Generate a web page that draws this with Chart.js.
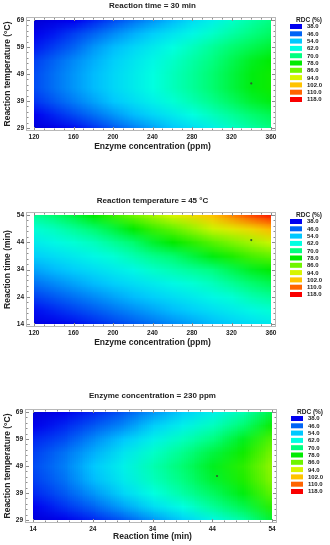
<!DOCTYPE html>
<html>
<head>
<meta charset="utf-8">
<script src="https://cdn.jsdelivr.net/npm/chart.js@4.4.1/dist/chart.umd.min.js"></script>
<style>
  body { margin: 0; background: #fff; }
  #wrap { position: relative; width: 330px; height: 545px; }
  canvas { position: absolute; left: 0; }
</style>
</head>
<body>
<div id="wrap">
  <canvas id="c1" width="330" height="160" style="top:0px"></canvas>
  <canvas id="c2" width="330" height="170" style="top:180px"></canvas>
  <canvas id="c3" width="330" height="175" style="top:370px"></canvas>
</div>
<script>
const enzymeGrid = [120, 140, 160, 180, 200, 220, 240, 260, 280, 300, 320, 340, 360];
const tempGrid = [29, 34, 39, 44, 49, 54, 59, 64, 69];
const timeGrid = [14, 19, 24, 29, 34, 39, 44, 49, 54];

// Reaction time = 30 min : rows = tempGrid, cols = enzymeGrid
const rdcTime30 = [
  [33, 36, 39, 42, 45, 48, 51, 54, 57, 60, 64, 67, 70],
  [38, 41, 44, 47, 50, 53, 56, 59, 62, 65, 68, 71, 73],
  [42, 45, 48, 51, 54, 57, 60, 63, 66, 69, 72, 75, 77],
  [44, 47, 50, 53, 56, 59, 62, 65, 68, 71, 74, 77, 79],
  [44, 47, 50, 53, 56, 59, 62, 65, 68, 71, 74, 77, 79],
  [43, 46, 49, 52, 55, 58, 61, 64, 67, 70, 73, 76, 78],
  [40, 43, 46, 50, 53, 56, 59, 62, 65, 68, 71, 73, 75],
  [37, 40, 43, 46, 49, 52, 55, 58, 61, 64, 67, 70, 72],
  [32, 35, 38, 41, 44, 47, 50, 53, 57, 60, 64, 67, 70]
];

// Reaction temperature = 45 °C : rows = timeGrid, cols = enzymeGrid
const rdcTemp45 = [
  [35, 37, 39, 41, 43, 45, 47, 49, 51, 53, 55, 57, 59],
  [39, 41, 43, 45, 47, 49, 51, 53, 55, 57, 59, 61, 63],
  [43, 45, 47, 49, 51, 53, 55, 57, 59, 61, 63, 66, 68],
  [47, 49, 51, 53, 55, 57, 59, 61, 63, 65, 68, 71, 73],
  [51, 53, 55, 57, 59, 61, 64, 66, 68, 70, 73, 76, 78],
  [55, 57, 59, 61, 63, 66, 69, 71, 74, 77, 80, 83, 85],
  [59, 61, 63, 65, 68, 71, 75, 78, 81, 84, 87, 90, 93],
  [63, 65, 68, 71, 74, 78, 82, 85, 89, 93, 96, 99, 103],
  [68, 71, 74, 78, 82, 86, 90, 94, 98, 102, 107, 112, 116]
];

// Enzyme concentration = 230 ppm : rows = tempGrid, cols = timeGrid
const rdcEnzyme230 = [
  [33, 37, 41, 45, 50, 55, 61, 67, 75],
  [38, 42, 46, 51, 57, 62, 68, 73, 81],
  [41, 45, 50, 56, 62, 67, 72, 77, 85],
  [43, 47, 53, 59, 65, 70, 75, 80, 88],
  [44, 48, 54, 60, 66, 71, 76, 81, 89],
  [43, 47, 52, 58, 64, 69, 74, 79, 87],
  [41, 44, 49, 54, 60, 65, 70, 76, 84],
  [37, 41, 45, 49, 55, 60, 65, 71, 79],
  [33, 37, 41, 45, 50, 55, 60, 66, 74]
];

// optimum marker in each panel
const optimumPoints = [{ x: 340, y: 45.5 }, { x: 340, y: 44.8 }, { x: 44.8, y: 45.3 }];

const legendLevels = [38, 46, 54, 62, 70, 78, 86, 94, 102, 110, 118];
const legendColors = [
  [0, 0, 240], [0, 100, 245], [0, 200, 255], [0, 255, 225], [0, 255, 128], [0, 235, 0],
  [110, 245, 0], [215, 245, 0], [255, 195, 0], [255, 100, 0], [250, 0, 0]
];

const FONT = '"Liberation Sans", Arial, sans-serif';

function colorFor(v) {
  if (v <= legendLevels[0]) {
    const k = Math.max(0, Math.min(1, (legendLevels[0] - v) / 8));
    return [0, 0, Math.round(240 - 35 * k)];
  }
  for (let i = 1; i < legendLevels.length; i++) {
    if (v <= legendLevels[i]) {
      const t = (v - legendLevels[i - 1]) / (legendLevels[i] - legendLevels[i - 1]);
      const a = legendColors[i - 1], b = legendColors[i];
      return a.map((c, j) => Math.round(c + (b[j] - c) * t));
    }
  }
  return legendColors[legendColors.length - 1];
}

// surface: one image pixel per read value, placed with the chart scales
const surfacePlugin = {
  id: 'surface',
  beforeDatasetsDraw(chart, args, o) {
    const { ctx, chartArea: a, scales: { x, y } } = chart;
    const nx = o.xs.length, ny = o.ys.length;
    const off = document.createElement('canvas');
    off.width = nx; off.height = ny;
    const octx = off.getContext('2d');
    const img = octx.createImageData(nx, ny);
    for (let j = 0; j < ny; j++) {
      for (let i = 0; i < nx; i++) {
        const c = colorFor(o.z[j][i]);
        const p = ((ny - 1 - j) * nx + i) * 4;
        img.data[p] = c[0]; img.data[p + 1] = c[1]; img.data[p + 2] = c[2]; img.data[p + 3] = 255;
      }
    }
    octx.putImageData(img, 0, 0);
    const hx = (o.xs[1] - o.xs[0]) / 2, hy = (o.ys[1] - o.ys[0]) / 2;
    const left = x.getPixelForValue(o.xs[0] - hx);
    const right = x.getPixelForValue(o.xs[nx - 1] + hx);
    const top = y.getPixelForValue(o.ys[ny - 1] + hy);
    const bottom = y.getPixelForValue(o.ys[0] - hy);
    ctx.save();
    ctx.beginPath();
    ctx.rect(a.left, a.top, a.right - a.left, a.bottom - a.top);
    ctx.clip();
    ctx.imageSmoothingEnabled = true;
    ctx.drawImage(off, left, top, right - left, bottom - top);
    ctx.restore();
  }
};

// grey frame with inner tick marks + legend of levels
const framePlugin = {
  id: 'frame',
  afterDraw(chart, args, o) {
    const { ctx, chartArea: a, scales: { x, y } } = chart;
    const L = a.left - 8, R = a.right + 5, T = a.top - 3, B = a.bottom + 3;
    ctx.save();
    ctx.strokeStyle = '#b8b8b8';
    ctx.lineWidth = 1;
    ctx.strokeRect(L + 0.5, T + 0.5, R - L - 1, B - T - 1);

    ctx.strokeStyle = '#8c8c8c';
    ctx.beginPath();
    for (let v = x.min; v <= x.max + 1e-6; v += o.xMinor) {
      const px = Math.round(x.getPixelForValue(v)) + 0.5;
      const major = Math.abs(((v - x.min) / o.xMajor) - Math.round((v - x.min) / o.xMajor)) < 1e-6;
      const len = major ? 3 : 1.5;
      ctx.moveTo(px, T + 1); ctx.lineTo(px, T + 1 + len);
      ctx.moveTo(px, B - 1); ctx.lineTo(px, B - 1 - len);
    }
    for (let v = y.min; v <= y.max + 1e-6; v += o.yMinor) {
      const py = Math.round(y.getPixelForValue(v)) + 0.5;
      const major = Math.abs(((v - y.min) / o.yMajor) - Math.round((v - y.min) / o.yMajor)) < 1e-6;
      const len = major ? 3 : 1.5;
      ctx.moveTo(L + 1, py); ctx.lineTo(L + 1 + len, py);
      ctx.moveTo(R - 1, py); ctx.lineTo(R - 1 - len, py);
    }
    ctx.stroke();

    // legend
    ctx.fillStyle = '#222';
    ctx.font = 'bold 6.5px ' + FONT;
    ctx.textBaseline = 'middle';
    ctx.textAlign = 'center';
    ctx.fillText('RDC (%)', a.right + 38, a.top + 0.5);
    ctx.textAlign = 'left';
    ctx.font = 'bold 6px ' + FONT;
    legendLevels.forEach((lv, i) => {
      const cy = a.top + 6.5 + i * 7.3;
      const c = legendColors[i];
      ctx.fillStyle = `rgb(${c[0]},${c[1]},${c[2]})`;
      ctx.fillRect(a.right + 19, cy - 2.5, 12, 5);
      ctx.fillStyle = '#222';
      ctx.fillText(lv.toFixed(1), a.right + 36, cy + 0.3);
    });
    ctx.restore();
  }
};

function makePanel(id, cfg) {
  return new Chart(document.getElementById(id), {
    type: 'scatter',
    data: {
      datasets: [{
        data: [cfg.point],
        pointRadius: 1.1,
        pointBackgroundColor: '#2f5f2f',
        pointBorderWidth: 0
      }]
    },
    options: {
      responsive: false,
      animation: false,
      events: [],
      layout: { padding: { left: 0, top: 0, right: 330 - cfg.right, bottom: 0 } },
      plugins: {
        legend: { display: false },
        tooltip: { enabled: false },
        title: {
          display: true,
          text: cfg.title,
          fullSize: false,
          color: '#222',
          font: { family: FONT, size: 8, weight: 'bold' },
          padding: { top: cfg.titleY - 4.8, bottom: cfg.top - cfg.titleY - 4.8 }
        },
        surface: { xs: cfg.xs, ys: cfg.ys, z: cfg.z },
        frame: { xMinor: cfg.xMinor, xMajor: cfg.xStep, yMinor: 2, yMajor: 10 }
      },
      scales: {
        x: {
          type: 'linear',
          min: cfg.xMin, max: cfg.xMax,
          afterFit: s => { s.height = cfg.h - cfg.bottom; },
          grid: { display: false, drawTicks: false },
          border: { display: false },
          ticks: {
            stepSize: cfg.xStep, padding: 5, maxRotation: 0, autoSkip: false,
            color: '#222', font: { family: FONT, size: 6.5, weight: 'bold' }
          },
          title: {
            display: true, text: cfg.xTitle, color: '#222',
            font: { family: FONT, size: 8.5, weight: 'bold' },
            padding: { top: 0, bottom: cfg.h - cfg.xTitleY - 5.1 }
          }
        },
        y: {
          type: 'linear',
          min: cfg.yMin, max: cfg.yMax,
          afterFit: s => { s.width = cfg.left; },
          grid: { display: false, drawTicks: false },
          border: { display: false },
          ticks: {
            stepSize: 10, padding: 10, autoSkip: false,
            color: '#222', font: { family: FONT, size: 6.5, weight: 'bold' }
          },
          title: {
            display: true, text: cfg.yTitle, color: '#222',
            font: { family: FONT, size: 8.5, weight: 'bold' },
            padding: { top: 3, bottom: 0 }
          }
        }
      }
    },
    plugins: [surfacePlugin, framePlugin]
  });
}

makePanel('c1', {
  h: 160, left: 34, right: 271, top: 20, bottom: 128, titleY: 6, xTitleY: 147,
  title: 'Reaction time = 30 min',
  xTitle: 'Enzyme concentration (ppm)', yTitle: 'Reaction temperature (°C)',
  xMin: 120, xMax: 360, xStep: 40, xMinor: 10, yMin: 29, yMax: 69,
  xs: enzymeGrid, ys: tempGrid, z: rdcTime30, point: optimumPoints[0]
});

makePanel('c2', {
  h: 170, left: 34, right: 271, top: 35, bottom: 144, titleY: 21, xTitleY: 163,
  title: 'Reaction temperature = 45 °C',
  xTitle: 'Enzyme concentration (ppm)', yTitle: 'Reaction time (min)',
  xMin: 120, xMax: 360, xStep: 40, xMinor: 10, yMin: 14, yMax: 54,
  xs: enzymeGrid, ys: timeGrid, z: rdcTemp45, point: optimumPoints[1]
});

makePanel('c3', {
  h: 175, left: 33, right: 272, top: 42, bottom: 150, titleY: 26, xTitleY: 167,
  title: 'Enzyme concentration = 230 ppm',
  xTitle: 'Reaction time (min)', yTitle: 'Reaction temperature (°C)',
  xMin: 14, xMax: 54, xStep: 10, xMinor: 2, yMin: 29, yMax: 69,
  xs: timeGrid, ys: tempGrid, z: rdcEnzyme230, point: optimumPoints[2]
});
</script>
</body>
</html>
